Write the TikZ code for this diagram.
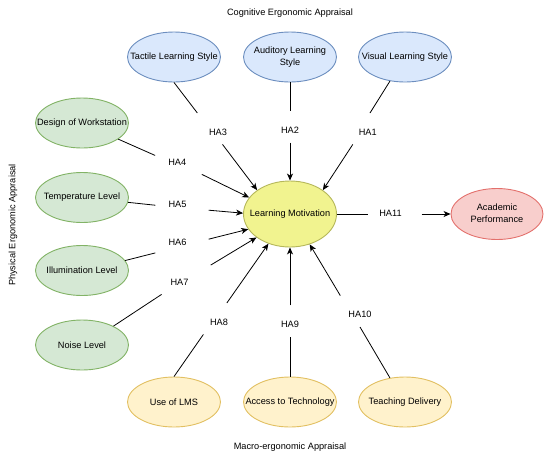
\documentclass[tikz,border=0pt]{standalone}
\usepackage{fontspec}
\setmainfont{Liberation Sans}
\usetikzlibrary{shapes.geometric,arrows.meta}
\definecolor{cogfill}{HTML}{DAE8FC}
\definecolor{cogdraw}{HTML}{6C8EBF}
\definecolor{phyfill}{HTML}{D5E8D4}
\definecolor{phydraw}{HTML}{82B366}
\definecolor{motfill}{HTML}{F1F38F}
\definecolor{motdraw}{HTML}{B5B75A}
\definecolor{acafill}{HTML}{F8CECC}
\definecolor{acadraw}{HTML}{E3706C}
\definecolor{macfill}{HTML}{FFF2CC}
\definecolor{macdraw}{HTML}{E2C062}
\newcommand{\onel}[1]{\makebox[0pt]{#1}}
\newcommand{\twol}[2]{\makebox[0pt]{\begin{tabular}{@{}c@{}}#1\\#2\end{tabular}}}
\newcommand{\hal}[1]{\makebox[0pt]{#1\hspace{9pt}}}
\begin{document}
\begin{tikzpicture}[x=1pt,y=-1pt,
  font=\fontsize{9.2}{11.5}\selectfont,
  ell/.style={ellipse, line width=0.9pt, minimum width=93pt, minimum height=50pt, inner sep=0pt},
  cogst/.style={ell, fill=cogfill, draw=cogdraw},
  physt/.style={ell, fill=phyfill, draw=phydraw},
  macst/.style={ell, fill=macfill, draw=macdraw},
  acast/.style={ell, fill=acafill, draw=acadraw, minimum width=92pt, minimum height=51pt},
  motst/.style={ell, fill=motfill, draw=motdraw, minimum width=93pt, minimum height=66pt},
  lbl/.style={rectangle, inner sep=0pt, minimum width=53pt, minimum height=31pt, text height=12.6pt, text depth=0pt},
  ln/.style={line width=0.8pt, black},
  arr/.style={ln, -{Stealth[length=7pt,width=6pt,inset=2pt]}}
]
\useasboundingbox (0,0) rectangle (550,459);

% titles
\node (cogt) at (290,13) {Cognitive Ergonomic Appraisal};
\node (mact) at (290,447) {Macro-ergonomic Appraisal};
\node[rotate=90] (phyt) at (13,225) {Physical Ergonomic Appraisal};

% cognitive
\node[cogst] (tact) at (174,57) {\onel{Tactile Learning Style}};
\node[cogst] (aud) at (290,57) {\twol{Auditory Learning}{Style}};
\node[cogst] (vis) at (405,57) {\onel{Visual Learning Style}};

% physical
\node[physt] (design) at (82,123) {\onel{Design of Workstation}};
\node[physt] (temp) at (82,197.5) {\onel{Temperature Level}};
\node[physt] (illum) at (82,270.5) {\onel{Illumination Level}};
\node[physt] (noise) at (82,345) {\onel{Noise Level}};

% macro
\node[macst] (lms) at (174,402) {\onel{Use of LMS}};
\node[macst] (access) at (290,402) {\onel{Access to Technology}};
\node[macst] (teach) at (405,402) {\onel{Teaching Delivery}};

% central
\node[motst] (lm) at (290,214) {\onel{Learning Motivation}};
\node[acast] (acad) at (497,214) {\twol{Academic}{Performance}};

% hypothesis labels
\node[lbl] (ha1) at (372.2,128.7) {\hal{HA1}};
\node[lbl] (ha2) at (294.5,127) {\hal{HA2}};
\node[lbl] (ha3) at (222.5,128.7) {\hal{HA3}};
\node[lbl] (ha4) at (181.8,158.7) {\hal{HA4}};
\node[lbl] (ha5) at (182,201) {\hal{HA5}};
\node[lbl] (ha6) at (182,238.7) {\hal{HA6}};
\node[lbl] (ha7) at (184,278.7) {\hal{HA7}};
\node[lbl] (ha8) at (223.5,318.7) {\hal{HA8}};
\node[lbl] (ha9) at (294.5,321) {\hal{HA9}};
\node[lbl] (ha10) at (364.5,311.3) {\hal{HA10}};
\node[lbl] (ha11) at (395,209.7) {\hal{HA11}};

% connectors
\draw[ln] (vis.238) -- (ha1.98);
\draw[arr] (ha1.219) -- (lm.36);
\draw[ln] (aud.south) -- (aud.south |- ha2.north);
\draw[arr] (aud.south |- ha2.south) -- (lm.north);
\draw[ln] (tact.south) -- (ha3.148);
\draw[arr] (ha3.south) -- (lm.144.5);
\draw[ln] (design.336) -- (ha4.173);
\draw[arr] (ha4.322) -- (lm.158);
\draw[ln] (temp.354) -- (ha5.189);
\draw[arr] (ha5.341) -- (lm.179);
\draw[ln] (illum.13) -- (ha6.208);
\draw[arr] (ha6.359) -- (lm.200);
\draw[ln] (noise.31) -- (ha7.215);
\draw[arr] (ha7.27) -- (lm.215);
\draw[ln] (lms.north) -- (ha8.218.5);
\draw[arr] (ha8.78) -- (lm.234);
\draw[ln] (access.north) -- (access.north |- ha9.south);
\draw[arr] (access.north |- ha9.north) -- (lm.south);
\draw[ln] (teach.122) -- (ha10.254);
\draw[arr] (ha10.147) -- (lm.303);
\draw[ln] (lm.east) -- (lm.east -| ha11.west);
\draw[arr] (lm.east -| ha11.east) -- (acad.west);
\end{tikzpicture}
\end{document}
